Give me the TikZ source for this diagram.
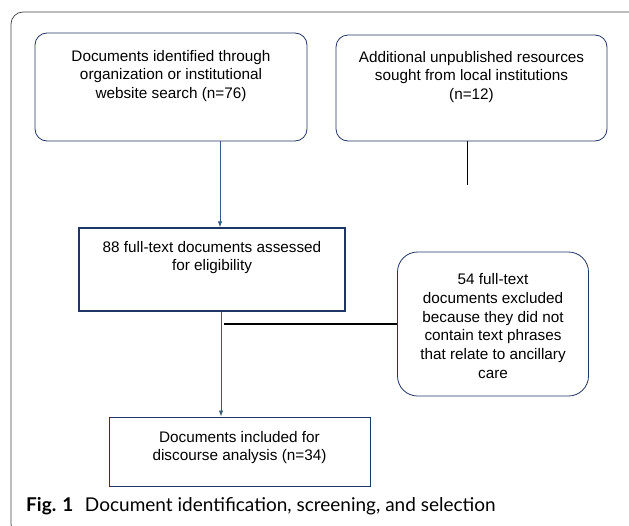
\documentclass[tikz,border=0pt]{standalone}
\usepackage{fontspec}
\usetikzlibrary{arrows.meta}
\setmainfont{Liberation Sans}
\newfontfamily\capfont{Lato}
\definecolor{boxblue}{HTML}{1F3566}
\definecolor{arrowblue}{HTML}{3A5A8E}
\definecolor{framegray}{HTML}{404040}
\begin{document}
\begin{tikzpicture}[x=1pt,y=-1pt,
  roundbox/.style={draw=boxblue, line width=0.8pt, rounded corners=12pt, inner sep=0pt},
  sharpbox/.style={draw=boxblue, line width=1.4pt, inner sep=0pt},
  txt/.style={align=center, font=\fontsize{15.3}{18.7}\selectfont, inner sep=0pt},
  flow/.style={draw=arrowblue, line width=0.8pt, -{Latex[length=6pt,width=4.5pt]}},
  blackline/.style={draw=black, line width=0.7pt}]
\useasboundingbox (0,0) rectangle (629,525);
\begin{scope}
\clip (0,0) rectangle (629,525);
\draw[framegray, line width=0.7pt, rounded corners=12pt] (11,12) rectangle (650,536);
\end{scope}
% boxes
\node[roundbox, minimum width=272pt, minimum height=108pt] (a) at (171,87) {};
\node[roundbox, minimum width=271pt, minimum height=106pt] (b) at (471.5,88) {};
\node[sharpbox, minimum width=266pt, minimum height=83pt] (c) at (212,269.5) {};
\node[roundbox, rounded corners=20pt, minimum width=191pt, minimum height=144pt] (e) at (493,324) {};
\node[draw=boxblue, line width=0.9pt, inner sep=0pt, minimum width=261pt, minimum height=69pt] (d) at (239.5,451.5) {};
% texts
\node[txt] (at) at ([yshift=11pt]a.center) {Documents identified through\\organization or institutional\\website search (n=76)};
\node[txt] (bt) at ([yshift=11pt]b.center) {Additional unpublished resources\\sought from local institutions\\(n=12)};
\node[txt] (ct) at ([yshift=12pt]c.center) {88 full-text documents assessed\\for eligibility};
\node[txt] (et) at ([yshift=-2pt]e.center) {54 full-text\\documents excluded\\because they did not\\contain text phrases\\that relate to ancillary\\care};
\node[txt] (dt) at ([yshift=4pt]d.center) {Documents included for\\discourse analysis (n=34)};
% connectors
\coordinate (bend) at (467,185);
\coordinate (join) at (224,324);
\draw[flow] (a.south -| 220,0) -- (c.north -| 220,0);
\draw[flow] (c.south -| 221,0) -- (d.north -| 221,0);
\draw[blackline] (b.south -| bend) -- (bend);
\draw[blackline, line width=1.3pt] (join) -- (e.west |- join);
\node[anchor=base west, font=\capfont\fontsize{19}{22}\selectfont, inner sep=0pt] (cap) at (26,511) {\textbf{Fig. 1}\hspace{0.35em} Document identification, screening, and selection};
\end{tikzpicture}
\end{document}
